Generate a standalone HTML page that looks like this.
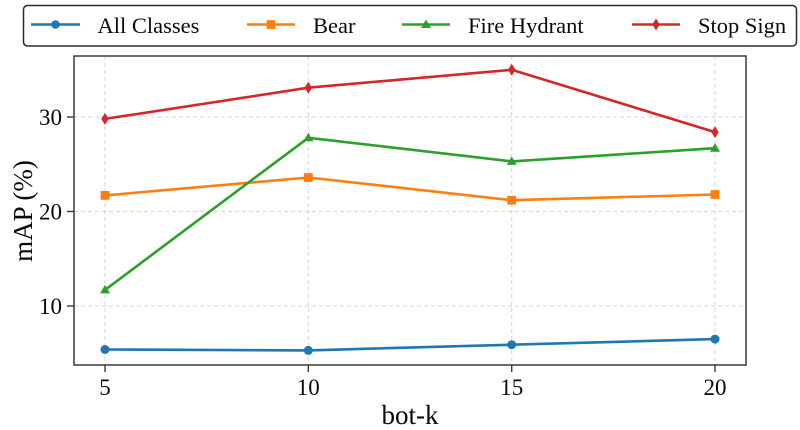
<!DOCTYPE html>
<html>
<head>
<meta charset="utf-8">
<style>
html,body{margin:0;padding:0;background:#fff;}
svg{display:block;}
text{font-family:"Liberation Serif","DejaVu Serif",serif;fill:#0a0a0a;}
</style>
</head>
<body>
<svg width="800" height="430" viewBox="0 0 800 430" xmlns="http://www.w3.org/2000/svg" font-family="'Liberation Serif', 'DejaVu Serif', serif">
  <rect x="0" y="0" width="800" height="430" fill="#fff"/>

  <!-- grid -->
  <g stroke="#d4d4d4" stroke-width="1" stroke-dasharray="4,3" fill="none">
    <line x1="105" y1="56" x2="105" y2="365"/>
    <line x1="308.3" y1="56" x2="308.3" y2="365"/>
    <line x1="511.7" y1="56" x2="511.7" y2="365"/>
    <line x1="715" y1="56" x2="715" y2="365"/>
    <line x1="74" y1="117" x2="746" y2="117"/>
    <line x1="74" y1="211.5" x2="746" y2="211.5"/>
    <line x1="74" y1="306" x2="746" y2="306"/>
  </g>

  <!-- series -->
  <g fill="none" stroke-width="2.6" stroke-linejoin="round">
    <polyline stroke="#1f77b4" points="105,349.5 308.3,350.4 511.7,344.7 715,339.1"/>
    <polyline stroke="#ff7f0e" points="105,195.4 308.3,177.5 511.7,200.2 715,194.5"/>
    <polyline stroke="#2ca02c" points="105,289.9 308.3,137.8 511.7,161.4 715,148.2"/>
    <polyline stroke="#d62728" points="105,118.9 308.3,87.7 511.7,69.8 715,132.1"/>
  </g>

  <!-- markers -->
  <g fill="#1f77b4">
    <circle cx="105" cy="349.5" r="4.5"/>
    <circle cx="308.3" cy="350.4" r="4.5"/>
    <circle cx="511.7" cy="344.7" r="4.5"/>
    <circle cx="715" cy="339.1" r="4.5"/>
  </g>
  <g fill="#ff7f0e">
    <rect x="100.6" y="191" width="8.8" height="8.8"/>
    <rect x="303.9" y="173.1" width="8.8" height="8.8"/>
    <rect x="507.3" y="195.8" width="8.8" height="8.8"/>
    <rect x="710.6" y="190.1" width="8.8" height="8.8"/>
  </g>
  <g fill="#2ca02c">
    <polygon points="105,284.9 110,293.4 100,293.4"/>
    <polygon points="308.3,132.8 313.3,141.3 303.3,141.3"/>
    <polygon points="511.7,156.4 516.7,164.9 506.7,164.9"/>
    <polygon points="715,143.2 720,151.7 710,151.7"/>
  </g>
  <g fill="#d62728">
    <polygon points="105,112.9 108.7,118.9 105,124.9 101.3,118.9"/>
    <polygon points="308.3,81.7 312,87.7 308.3,93.7 304.6,87.7"/>
    <polygon points="511.7,63.8 515.4,69.8 511.7,75.8 508,69.8"/>
    <polygon points="715,126.1 718.7,132.1 715,138.1 711.3,132.1"/>
  </g>

  <!-- axes frame -->
  <rect x="74" y="56" width="672" height="309" fill="none" stroke="#3a3a3a" stroke-width="1.5"/>

  <!-- ticks -->
  <g stroke="#3a3a3a" stroke-width="1.4">
    <line x1="105" y1="365" x2="105" y2="372"/>
    <line x1="308.3" y1="365" x2="308.3" y2="372"/>
    <line x1="511.7" y1="365" x2="511.7" y2="372"/>
    <line x1="715" y1="365" x2="715" y2="372"/>
    <line x1="67" y1="117" x2="74" y2="117"/>
    <line x1="67" y1="211.5" x2="74" y2="211.5"/>
    <line x1="67" y1="306" x2="74" y2="306"/>
  </g>

  <!-- tick labels -->
  <g font-size="23" text-anchor="middle" font-family="'Liberation Serif', serif">
    <text x="105" y="395">5</text>
    <text x="308.3" y="395">10</text>
    <text x="511.7" y="395">15</text>
    <text x="715" y="395">20</text>
  </g>
  <g font-size="23" text-anchor="end" font-family="'Liberation Serif', serif">
    <text x="62" y="125">30</text>
    <text x="62" y="219.5">20</text>
    <text x="62" y="314">10</text>
  </g>

  <!-- axis labels -->
  <text x="410" y="424" font-size="27" text-anchor="middle" font-family="'Liberation Serif', serif">bot-k</text>
  <text transform="translate(32,211) rotate(-90)" font-size="27" text-anchor="middle" font-family="'Liberation Serif', serif">mAP (%)</text>

  <!-- legend -->
  <rect x="23.5" y="5.5" width="773" height="40.5" rx="4" ry="4" fill="#fff" stroke="#2a2a2a" stroke-width="1.5"/>
  <g stroke-width="2.6">
    <line x1="31" y1="24.5" x2="80" y2="24.5" stroke="#1f77b4"/>
    <line x1="247" y1="24.5" x2="295" y2="24.5" stroke="#ff7f0e"/>
    <line x1="402" y1="24.5" x2="450" y2="24.5" stroke="#2ca02c"/>
    <line x1="632" y1="24.5" x2="680" y2="24.5" stroke="#d62728"/>
  </g>
  <circle cx="55.5" cy="24.5" r="4.3" fill="#1f77b4"/>
  <rect x="266.6" y="20.1" width="8.8" height="8.8" fill="#ff7f0e"/>
  <polygon points="426,19.5 431,28 421,28" fill="#2ca02c"/>
  <polygon points="656,18.5 659.7,24.5 656,30.5 652.3,24.5" fill="#d62728"/>
  <g font-size="22.5" font-family="'Liberation Serif', serif">
    <text x="97.5" y="33">All Classes</text>
    <text x="313" y="33">Bear</text>
    <text x="468" y="33">Fire Hydrant</text>
    <text x="698" y="33">Stop Sign</text>
  </g>
</svg>
</body>
</html>
